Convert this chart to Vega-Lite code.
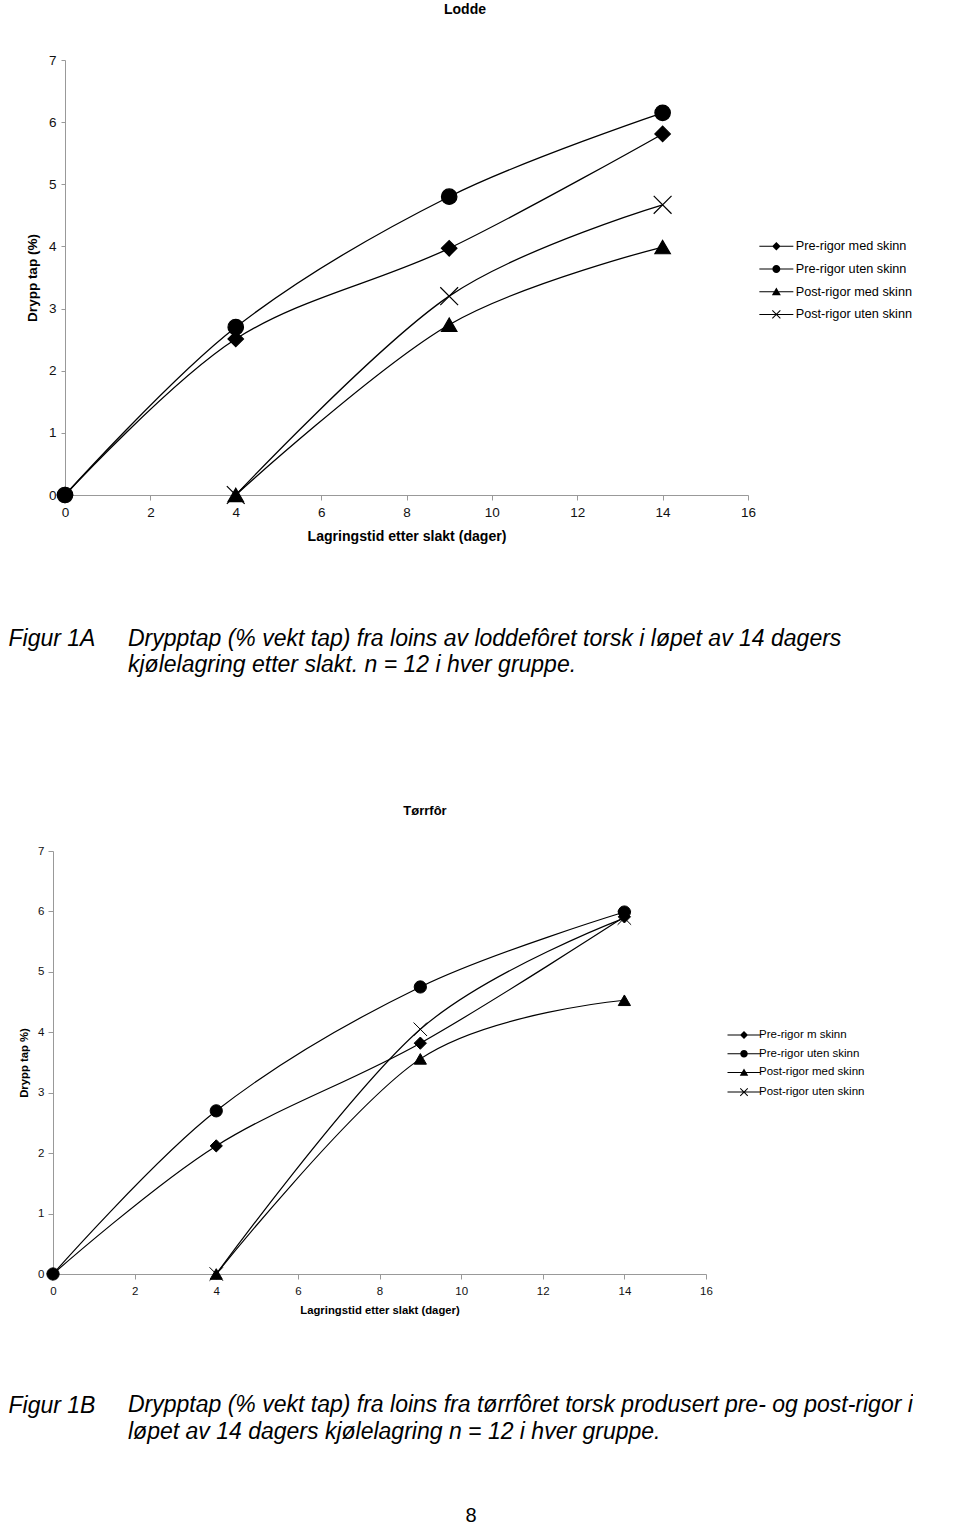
{
  "$schema": "https://vega.github.io/schema/vega-lite/v6.json",
  "background": "white",
  "padding": {"left": 8, "top": 3, "right": 0, "bottom": 0},
  "config": {
    "view": {"stroke": null},
    "axis": {"grid": false},
    "font": "Liberation Sans"
  },
  "datasets": {
    "lodde": [
      {"serie": "Pre-rigor med skinn", "dag": 0, "tap": 0},
      {"serie": "Pre-rigor med skinn", "dag": 4, "tap": 2.51},
      {"serie": "Pre-rigor med skinn", "dag": 9, "tap": 3.97},
      {"serie": "Pre-rigor med skinn", "dag": 14, "tap": 5.81},
      {"serie": "Pre-rigor uten skinn", "dag": 0, "tap": 0},
      {"serie": "Pre-rigor uten skinn", "dag": 4, "tap": 2.70},
      {"serie": "Pre-rigor uten skinn", "dag": 9, "tap": 4.80},
      {"serie": "Pre-rigor uten skinn", "dag": 14, "tap": 6.15},
      {"serie": "Post-rigor med skinn", "dag": 4, "tap": 0},
      {"serie": "Post-rigor med skinn", "dag": 9, "tap": 2.74},
      {"serie": "Post-rigor med skinn", "dag": 14, "tap": 3.99},
      {"serie": "Post-rigor uten skinn", "dag": 4, "tap": 0},
      {"serie": "Post-rigor uten skinn", "dag": 9, "tap": 3.20},
      {"serie": "Post-rigor uten skinn", "dag": 14, "tap": 4.67}
    ],
    "torrfor": [
      {"serie": "Pre-rigor m skinn", "dag": 0, "tap": 0},
      {"serie": "Pre-rigor m skinn", "dag": 4, "tap": 2.12},
      {"serie": "Pre-rigor m skinn", "dag": 9, "tap": 3.82},
      {"serie": "Pre-rigor m skinn", "dag": 14, "tap": 5.91},
      {"serie": "Pre-rigor uten skinn", "dag": 0, "tap": 0},
      {"serie": "Pre-rigor uten skinn", "dag": 4, "tap": 2.70},
      {"serie": "Pre-rigor uten skinn", "dag": 9, "tap": 4.75},
      {"serie": "Pre-rigor uten skinn", "dag": 14, "tap": 5.99},
      {"serie": "Post-rigor med skinn", "dag": 4, "tap": 0},
      {"serie": "Post-rigor med skinn", "dag": 9, "tap": 3.56},
      {"serie": "Post-rigor med skinn", "dag": 14, "tap": 4.53},
      {"serie": "Post-rigor uten skinn", "dag": 4, "tap": 0},
      {"serie": "Post-rigor uten skinn", "dag": 9, "tap": 4.05},
      {"serie": "Post-rigor uten skinn", "dag": 14, "tap": 5.89}
    ],
    "capA": [
      {"fig": "Figur 1A", "tekst": "Drypptap (% vekt tap) fra loins av loddefôret torsk i løpet av 14 dagers"},
      {"fig": "", "tekst": "kjølelagring etter slakt. n = 12 i hver gruppe."}
    ],
    "capB": [
      {"fig": "Figur 1B", "tekst": "Drypptap (% vekt tap) fra loins fra tørrfôret torsk produsert pre- og post-rigor i"},
      {"fig": " ", "tekst": "løpet av 14 dagers kjølelagring n = 12 i hver gruppe."}
    ]
  },
  "bounds": "flush",
  "center": true,
  "spacing": 131,
  "vconcat": [
    {
      "width": 683,
      "height": 435,
      "data": {"name": "lodde"},
      "title": {"text": "Lodde", "frame": "group", "anchor": "middle", "dx": 58.5, "offset": 22, "baseline": "bottom", "font": "Liberation Sans", "fontSize": 14, "fontWeight": "bold", "color": "black"},
      "encoding": {
        "x": {"field": "dag", "type": "quantitative",
          "scale": {"domain": [0, 16], "nice": false},
          "axis": {"values": [0, 2, 4, 6, 8, 10, 12, 14, 16], "title": "Lagringstid etter slakt (dager)", "titleFont": "Liberation Sans", "titleFontSize": 14.1, "titleFontWeight": "bold", "titleColor": "black", "titlePadding": 11, "labelFont": "Liberation Sans", "labelFontSize": 13.5, "labelColor": "#111", "labelPadding": 5, "tickSize": 5, "tickColor": "#999", "domainColor": "#999", "labelFlush": false}},
        "y": {"field": "tap", "type": "quantitative",
          "scale": {"domain": [0, 7], "nice": false},
          "axis": {"values": [0, 1, 2, 3, 4, 5, 6, 7], "title": "Drypp tap (%)", "titleFont": "Liberation Sans", "titleFontSize": 13.5, "titleFontWeight": "bold", "titleColor": "black", "titlePadding": 9, "labelFont": "Liberation Sans", "labelFontSize": 13.5, "labelColor": "#111", "labelPadding": 5, "tickSize": 4, "tickColor": "#999", "domainColor": "#999"}}
      },
      "layer": [
        {"mark": {"type": "line", "interpolate": "cardinal", "color": "black", "strokeWidth": 1.3},
         "encoding": {"detail": {"field": "serie"}}},
        {"mark": {"type": "point", "filled": true, "color": "black", "stroke": "black", "strokeWidth": 1.2, "size": 240, "opacity": 1},
         "encoding": {"shape": {"field": "serie", "type": "nominal", "sort": null,
           "scale": {"range": ["diamond", "circle", "triangle-up", "M-1.15,-1.15L1.15,1.15M-1.15,1.15L1.15,-1.15"]},
           "legend": null}}},
        {"mark": {"type": "point", "filled": true, "color": "black", "opacity": 0},
         "encoding": {
           "shape": {"field": "serie", "type": "nominal", "sort": null,
             "scale": {"range": [
               "M-3.4,-0.1L3.4,-0.1L3.4,0.1L-3.4,0.1ZM0,-0.85L0.85,0L0,0.85L-0.85,0Z",
               "M-3.4,-0.1L3.4,-0.1L3.4,0.1L-3.4,0.1ZM-0.8,0A0.8,0.8 0 1,1 0.8,0A0.8,0.8 0 1,1 -0.8,0Z",
               "M-3.4,-0.1L3.4,-0.1L3.4,0.1L-3.4,0.1ZM0,-0.85L0.9,0.7L-0.9,0.7Z",
               "M-3.4,-0.1L3.4,-0.1L3.4,0.1L-3.4,0.1ZM-0.87,-0.73L-0.73,-0.87L0.87,0.73L0.73,0.87ZM-0.87,0.73L0.73,-0.87L0.87,-0.73L-0.73,0.87Z"]},
             "legend": {"title": null, "orient": "none", "legendX": 705, "legendY": 180, "padding": 0,
               "symbolSize": 100, "symbolOpacity": 1, "symbolFillColor": "black",
               "labelFont": "Liberation Sans", "labelFontSize": 12.7, "labelColor": "black", "labelOffset": 13, "rowPadding": 7.7}}
         }}
      ],
      "resolve": {"scale": {"shape": "independent"}}
    },
    {
      "width": 557,
      "height": 94,
      "data": {"name": "capA"},
      "mark": {"type": "text", "align": "left", "baseline": "middle", "font": "Liberation Sans", "fontStyle": "italic", "fontSize": 23, "color": "black", "dy": -21},
      "encoding": {
        "x": {"datum": "tekst", "type": "nominal", "scale": {"type": "point", "padding": 0, "align": 0}, "axis": null},
        "y": {"field": "fig", "type": "nominal", "sort": null, "scale": {"type": "band", "paddingOuter": 1, "paddingInner": 0.385},
          "axis": {"title": null, "domain": false, "ticks": false, "tickSize": 0, "labelPadding": 120, "labelAlign": "left", "labelBaseline": "middle", "labelFont": "Liberation Sans", "labelFontStyle": "italic", "labelFontSize": 23, "labelColor": "black", "labelOffset": -21, "labelOverlap": false, "labelLimit": 0}},
        "text": {"field": "tekst"}
      }
    },
    {
      "width": 707,
      "height": 423,
      "data": {"name": "torrfor"},
      "title": {"text": "Tørrfôr", "frame": "group", "anchor": "middle", "dx": 18.5, "offset": 14, "baseline": "bottom", "font": "Liberation Sans", "fontSize": 13, "fontWeight": "bold", "color": "black"},
      "encoding": {
        "x": {"field": "dag", "type": "quantitative",
          "scale": {"domain": [0, 16], "nice": false, "range": [0, 653]},
          "axis": {"values": [0, 2, 4, 6, 8, 10, 12, 14, 16], "title": "Lagringstid etter slakt (dager)", "titleFont": "Liberation Sans", "titleFontSize": 11.3, "titleFontWeight": "bold", "titleColor": "black", "titlePadding": 8, "labelFont": "Liberation Sans", "labelFontSize": 11.5, "labelColor": "#111", "labelPadding": 6, "tickSize": 5, "tickColor": "#999", "domainColor": "#999", "labelFlush": false}},
        "y": {"field": "tap", "type": "quantitative",
          "scale": {"domain": [0, 7], "nice": false},
          "axis": {"values": [0, 1, 2, 3, 4, 5, 6, 7], "title": "Drypp tap %)", "titleFont": "Liberation Sans", "titleFontSize": 11.3, "titleFontWeight": "bold", "titleColor": "black", "titlePadding": 8, "labelFont": "Liberation Sans", "labelFontSize": 11.5, "labelColor": "#111", "labelPadding": 4, "tickSize": 5, "tickColor": "#999", "domainColor": "#999"}}
      },
      "layer": [
        {"mark": {"type": "line", "interpolate": "cardinal", "color": "black", "strokeWidth": 1.2},
         "encoding": {"detail": {"field": "serie"}}},
        {"mark": {"type": "point", "filled": true, "color": "black", "stroke": "black", "strokeWidth": 1, "size": 150, "opacity": 1},
         "encoding": {"shape": {"field": "serie", "type": "nominal", "sort": null,
           "scale": {"range": ["diamond", "circle", "triangle-up", "M-1.1,-1.1L1.1,1.1M-1.1,1.1L1.1,-1.1"]},
           "legend": null}}},
        {"mark": {"type": "point", "filled": true, "color": "black", "opacity": 0},
         "encoding": {
           "shape": {"field": "serie", "type": "nominal", "sort": null,
             "scale": {"range": [
               "M-3.3,-0.1L3.3,-0.1L3.3,0.1L-3.3,0.1ZM0,-0.8L0.8,0L0,0.8L-0.8,0Z",
               "M-3.3,-0.1L3.3,-0.1L3.3,0.1L-3.3,0.1ZM-0.75,0A0.75,0.75 0 1,1 0.75,0A0.75,0.75 0 1,1 -0.75,0Z",
               "M-3.3,-0.1L3.3,-0.1L3.3,0.1L-3.3,0.1ZM0,-0.8L0.85,0.65L-0.85,0.65Z",
               "M-3.3,-0.1L3.3,-0.1L3.3,0.1L-3.3,0.1ZM-0.82,-0.68L-0.68,-0.82L0.82,0.68L0.68,0.82ZM-0.82,0.68L0.68,-0.82L0.82,-0.68L-0.68,0.82Z"]},
             "legend": {"title": null, "orient": "none", "legendX": 685, "legendY": 178, "padding": 0,
               "symbolSize": 100, "symbolOpacity": 1, "symbolFillColor": "black",
               "labelFont": "Liberation Sans", "labelFontSize": 11.5, "labelColor": "black", "labelOffset": 9, "rowPadding": 4.7}}
         }}
      ],
      "resolve": {"scale": {"shape": "independent"}}
    },
    {
      "width": 557,
      "height": 27,
      "data": {"name": "capB"},
      "title": {"text": "8", "orient": "bottom", "frame": "group", "anchor": "middle", "dx": 64.5, "offset": 62, "font": "Liberation Sans", "fontSize": 20, "fontWeight": "normal", "color": "black"},
      "mark": {"type": "text", "align": "left", "baseline": "middle", "font": "Liberation Sans", "fontStyle": "italic", "fontSize": 23, "color": "black"},
      "encoding": {
        "x": {"datum": "tekst", "type": "nominal", "scale": {"type": "point", "padding": 0, "align": 0}, "axis": null},
        "y": {"field": "fig", "type": "nominal", "sort": null, "scale": {"type": "point", "padding": 0},
          "axis": {"title": null, "domain": false, "ticks": false, "tickSize": 0, "labelPadding": 120, "labelAlign": "left", "labelBaseline": "middle", "labelFont": "Liberation Sans", "labelFontStyle": "italic", "labelFontSize": 23, "labelColor": "black", "labelOverlap": false, "labelLimit": 0}},
        "text": {"field": "tekst"}
      }
    }
  ]
}
